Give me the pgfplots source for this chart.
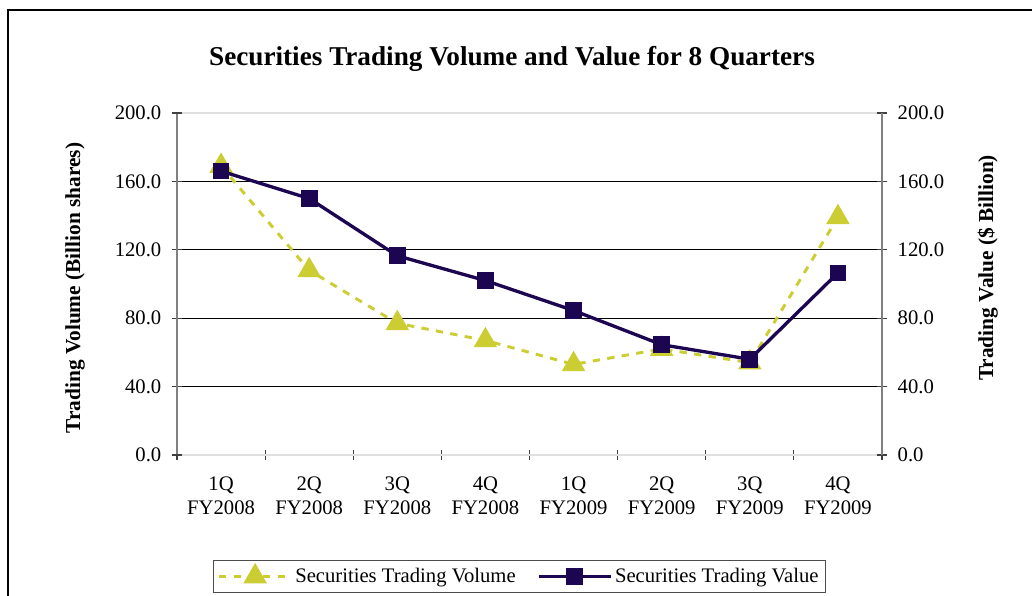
\documentclass[border=0pt]{standalone}
\usepackage{fontspec}
\setmainfont{Liberation Serif}
\usepackage{pgfplots}
\pgfplotsset{compat=1.18}
\definecolor{volcol}{RGB}{204,204,51}
\definecolor{valcol}{RGB}{28,6,82}
\definecolor{axgray}{RGB}{128,128,128}
\pgfplotsset{
  volstyle/.style={volcol, line width=2.2pt, dash pattern=on 5.5pt off 5.5pt,
    mark=triangle*, mark size=8pt, mark options={solid}},
  valstyle/.style={valcol, line width=2.5pt, mark=square*, mark size=5pt},
  base/.style={
    at={(132.75pt,105.75pt)}, anchor=south west,
    scale only axis, width=528.75pt, height=256.5pt,
    xmin=-0.5, xmax=7.5, ymin=0, ymax=200,
    tick align=center, major tick length=7.5pt, minor tick length=8pt,
    tick style={black!75, line width=0.8pt},
    tick label style={font=\fontsize{15.5}{18}\selectfont},
    /pgf/number format/.cd, fixed, fixed zerofill, precision=1, assume math mode=true,
  },
}
\begin{document}
\begin{tikzpicture}
\useasboundingbox (0,0) rectangle (774pt,447pt);
\begin{scope}
\clip (0,0) rectangle (774pt,447pt);
\draw[line width=1.1pt] (6pt,-10pt) -- (6pt,439.5pt) -- (790pt,439.5pt);
\end{scope}
\node[font=\bfseries\fontsize{20.4}{24}\selectfont] at (384pt,403pt)
  {Securities Trading Volume and Value for 8 Quarters};

\begin{axis}[base,
  axis x line=bottom, axis y line=left,
  axis line style={-, draw=axgray, line width=1.1pt},
  x axis line style={-}, y axis line style={-},
  xtick={0,...,7},
  xticklabels={{1Q\\FY2008},{2Q\\FY2008},{3Q\\FY2008},{4Q\\FY2008},
               {1Q\\FY2009},{2Q\\FY2009},{3Q\\FY2009},{4Q\\FY2009}},
  xticklabel style={align=center, yshift=-9pt},
  yticklabel style={xshift=-4.5pt},
  major x tick style={draw=none},
  minor xtick={-0.5,0.5,...,7.5},
  ytick={40,80,120,160},
  extra y ticks={0,200},
  extra y tick style={major grid style={black!12, line width=0.8pt}},
  ymajorgrids, major grid style={black, line width=0.7pt},
  ylabel={Trading Volume (Billion shares)},
  every axis y label/.style={at={(axis description cs:-0.1447,0.488)},
    rotate=90, anchor=center, font=\bfseries\fontsize{16}{19}\selectfont},
]
\addplot[volstyle] coordinates {(0,169) (1,108) (2,77) (3,67) (4,53) (5,62) (6,54) (7,139)};
\end{axis}

\begin{axis}[base,
  axis x line=none, axis y line=right,
  axis line style={-, draw=axgray, line width=1.1pt},
  y axis line style={-},
  ytick={0,40,...,200},
  yticklabel style={xshift=4.5pt},
  ylabel={Trading Value (\$ Billion)},
  every axis y label/.style={at={(axis description cs:1.150,0.547)},
    rotate=90, anchor=center, font=\bfseries\fontsize{16}{19}\selectfont},
  legend style={at={(axis description cs:0.4858,-0.3553)}, anchor=center,
    legend columns=2, draw=black!70, line width=0.8pt,
    font=\fontsize{15.5}{18}\selectfont, inner xsep=3pt, inner ysep=4pt,
    /tikz/every even column/.append style={column sep=14pt}},
  legend image code/.code={\draw[mark repeat=2,mark phase=2,#1]
    plot coordinates {(0pt,0pt) (27pt,0pt) (54pt,0pt)};},
]
\addlegendimage{volstyle}
\addlegendentry{Securities Trading Volume}
\addplot[valstyle] coordinates {(0,166) (1,150) (2,116.5) (3,102) (4,84.5) (5,64.5) (6,56) (7,106.5)};
\addlegendentry{Securities Trading Value}
\end{axis}
\end{tikzpicture}
\end{document}
